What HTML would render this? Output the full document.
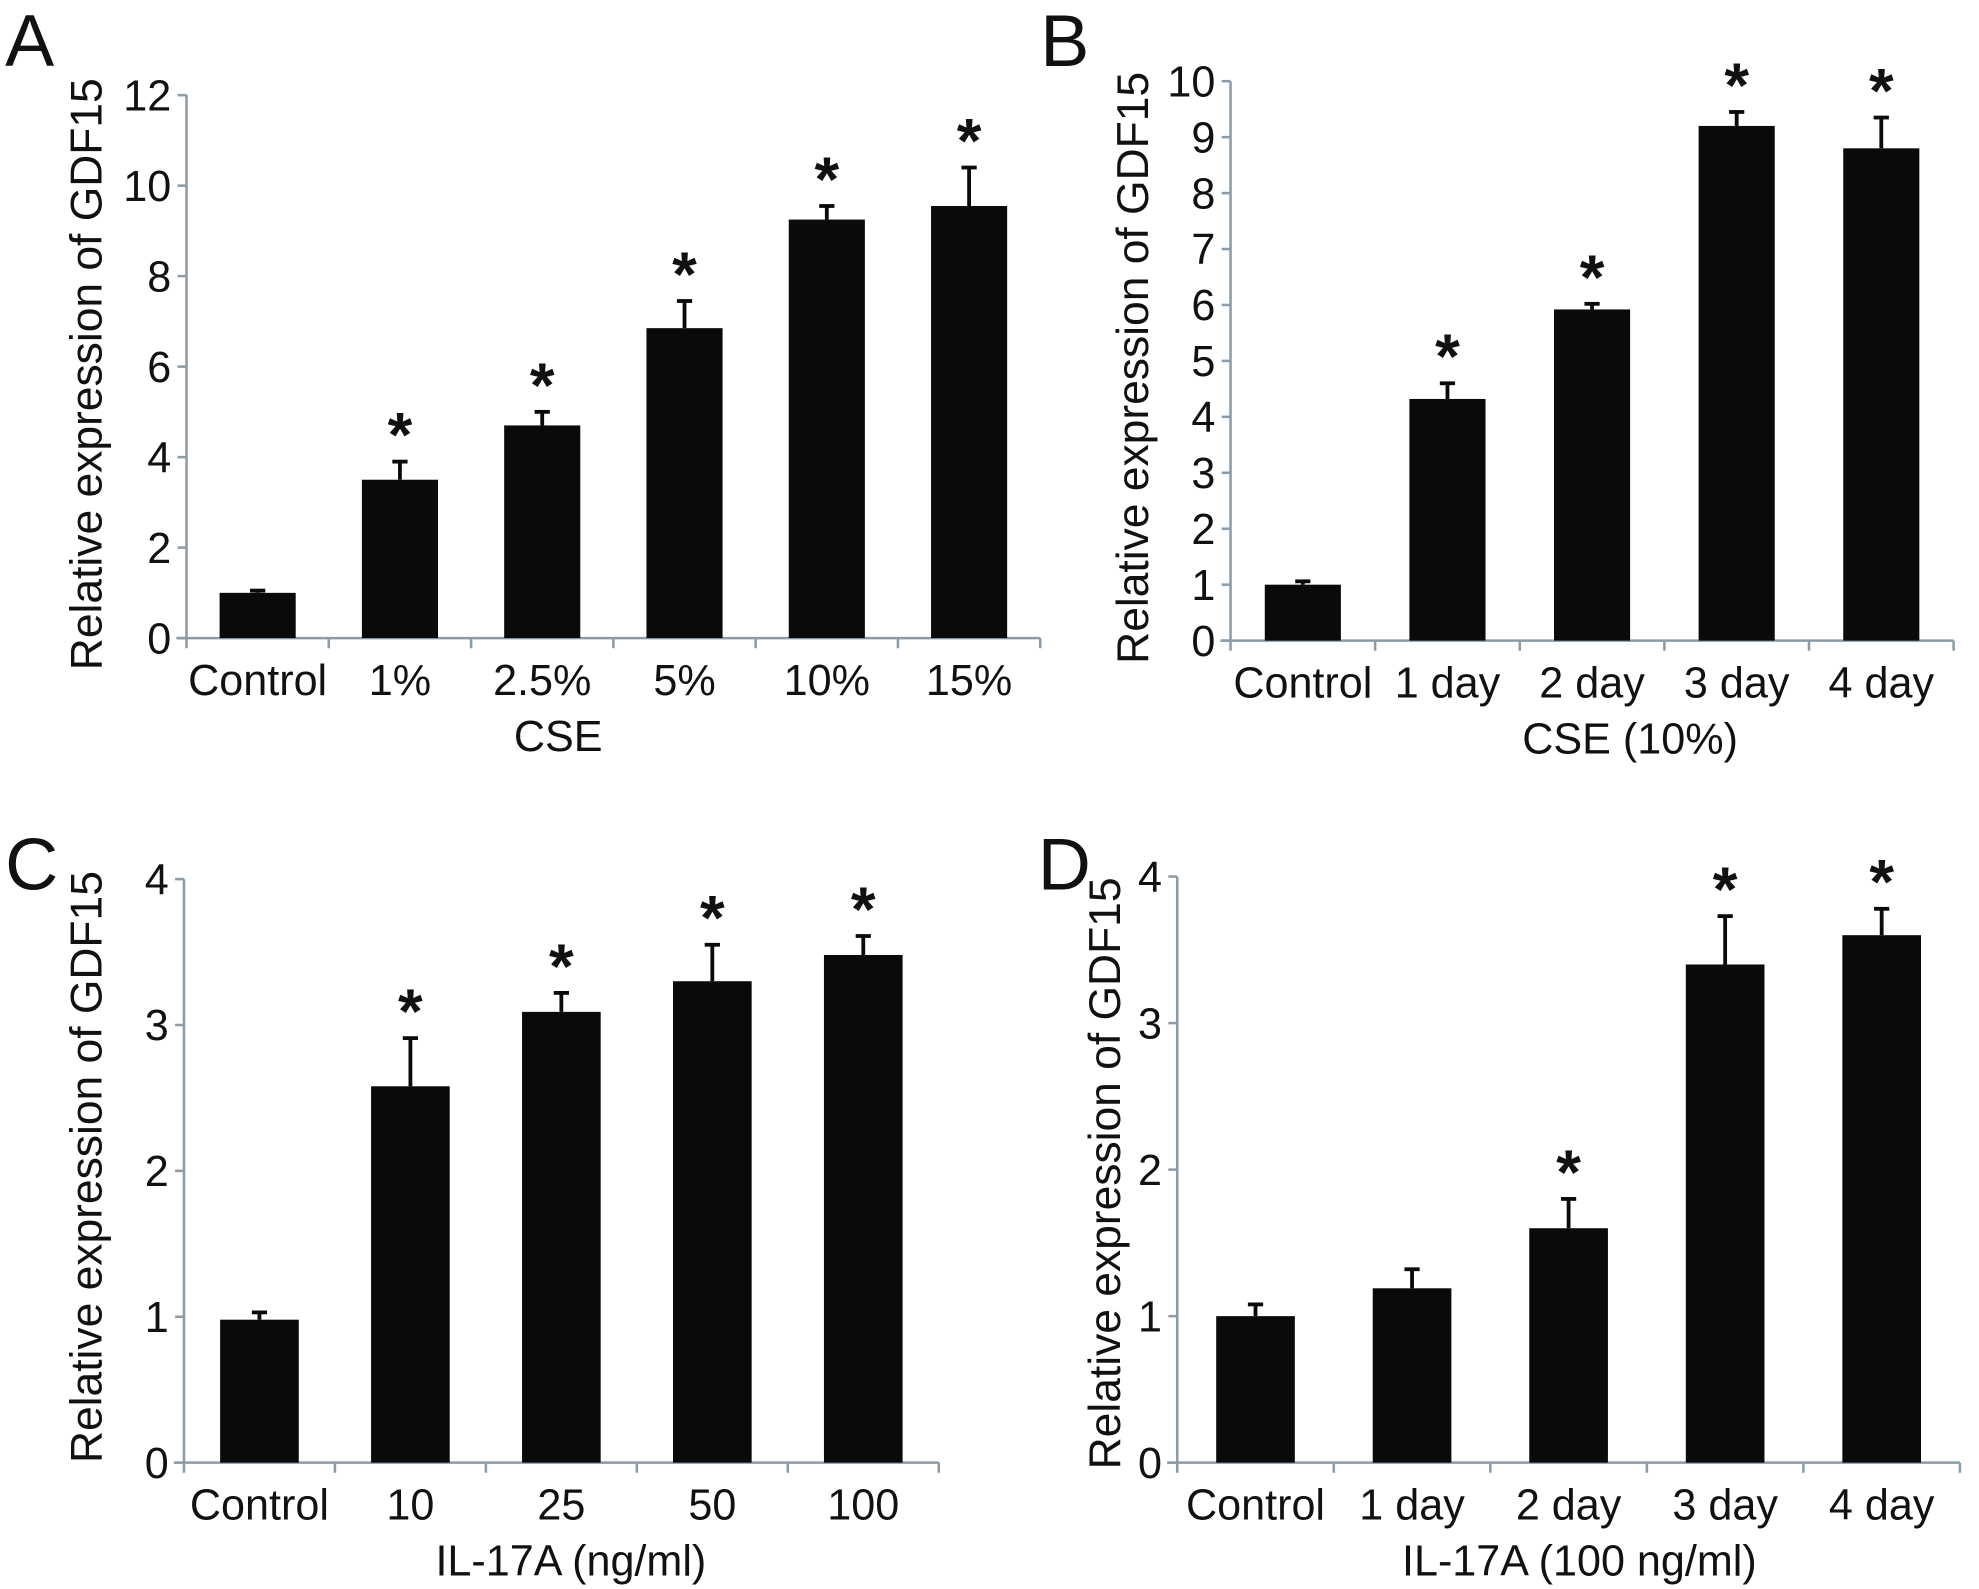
<!DOCTYPE html>
<html><head><meta charset="utf-8">
<style>
html,body{margin:0;padding:0;background:#fff;}
svg{display:block;}
text{font-family:"Liberation Sans",Arial,sans-serif;fill:#111;}
</style></head>
<body>
<svg id="fig" width="1979" height="1589" viewBox="0 0 1560 1252.6" xmlns="http://www.w3.org/2000/svg"></svg>
<script>
// Panel A
const catsA = ["Control","1%","2.5%","5%","10%","15%"];
const valsA = [1.0,3.5,4.7,6.85,9.25,9.55];
const errsA = [0.05,0.4,0.3,0.6,0.3,0.85];
const sigA = [false,true,true,true,true,true];
const ticksA = [0,2,4,6,8,10,12];
// Panel B
const catsB = ["Control","1 day","2 day","3 day","4 day"];
const valsB = [1.0,4.32,5.92,9.2,8.8];
const errsB = [0.06,0.28,0.1,0.25,0.55];
const sigB = [false,true,true,true,true];
const ticksB = [0,1,2,3,4,5,6,7,8,9,10];
// Panel C
const catsC = ["Control","10","25","50","100"];
const valsC = [0.98,2.58,3.09,3.3,3.48];
const errsC = [0.05,0.33,0.13,0.25,0.13];
const sigC = [false,true,true,true,true];
const ticksC = [0,1,2,3,4];
// Panel D
const catsD = ["Control","1 day","2 day","3 day","4 day"];
const valsD = [1.0,1.19,1.6,3.4,3.6];
const errsD = [0.08,0.13,0.2,0.33,0.18];
const sigD = [false,false,true,true,true];
const ticksD = [0,1,2,3,4];

const NS="http://www.w3.org/2000/svg";
const svg=document.getElementById('fig');
function mk(tag,attrs,parent){const e=document.createElementNS(NS,tag);for(const k in attrs)e.setAttribute(k,attrs[k]);(parent||svg).appendChild(e);return e;}

function panel(p){
  const g=mk('g',{});
  
  
  const ymax=p.ticks[p.ticks.length-1];
  const Y=v=>p.y0-(p.y0-p.yTop)*v/ymax;
  const n=p.cats.length;
  const step=(p.xR-p.x0)/n;
  const X=i=>p.x0+step*(i+0.5);
  const lt=mk('text',{x:p.lx,y:p.ly,'font-size':58},g);lt.textContent=p.letter;
  
  
  const ax='#8c9ba6';
  const ya=mk('line',{x1:p.x0,y1:p.yTop,x2:p.x0,y2:p.y0,stroke:ax,'stroke-width':2},g);
  
  
  const xa=mk('line',{x1:p.x0-8,y1:p.y0,x2:p.xR,y2:p.y0,stroke:ax,'stroke-width':2},g);
  
  
  p.ticks.forEach(t=>{
    mk('line',{x1:p.x0-7,y1:Y(t),x2:p.x0,y2:Y(t),stroke:ax,'stroke-width':2},g);
    const tt=mk('text',{x:p.x0-12,y:Y(t)+12,'font-size':34,'text-anchor':'end'},g);tt.textContent=t;
    
    
  });
  for(let i=0;i<=n;i++){mk('line',{x1:p.x0+step*i,y1:p.y0,x2:p.x0+step*i,y2:p.y0+8,stroke:ax,'stroke-width':2},g);}
  p.cats.forEach((c,i)=>{
    const v=p.vals[i],e=p.errs[i],cx=X(i);
    const b=mk('rect',{x:cx-p.bw/2,y:Y(v),width:p.bw,height:p.y0-Y(v),fill:'#0a0a0a'},g);
    
    
    mk('line',{x1:cx,y1:Y(v),x2:cx,y2:Y(v+e),stroke:'#0a0a0a','stroke-width':3},g);
    mk('line',{x1:cx-6,y1:Y(v+e),x2:cx+6,y2:Y(v+e),stroke:'#0a0a0a','stroke-width':3},g);
    if(p.sig[i]){const s=mk('text',{x:cx,y:Y(v+e)-4,'font-size':50,'font-weight':'bold','text-anchor':'middle'},g);s.textContent='*';
      
      }
    const cl=mk('text',{x:cx,y:p.y0+45,'font-size':34,'text-anchor':'middle'},g);cl.textContent=c;
    
    
  });
  const xt=mk('text',{x:p.xtx,y:p.y0+89,'font-size':34,'text-anchor':'middle'},g);xt.textContent=p.xtitle;
  
  
  const yt=mk('text',{x:0,y:0,'font-size':35,'text-anchor':'middle',transform:`translate(${p.ytx},${p.ytc}) rotate(-90)`},g);
  yt.textContent='Relative expression of GDF15';
  
  
}
panel({letter:'A',lx:4,ly:52,x0:147,xR:820,y0:503,yTop:75,bw:60,cats:catsA,vals:valsA,errs:errsA,sig:sigA,ticks:ticksA,xtitle:'CSE',xtx:440,ytx:80,ytc:295});
panel({letter:'B',lx:820,ly:52,x0:970,xR:1540,y0:505,yTop:64,bw:60,cats:catsB,vals:valsB,errs:errsB,sig:sigB,ticks:ticksB,xtitle:'CSE (10%)',xtx:1285,ytx:905,ytc:290});
panel({letter:'C',lx:4,ly:701,x0:145,xR:740,y0:1153,yTop:693,bw:62,cats:catsC,vals:valsC,errs:errsC,sig:sigC,ticks:ticksC,xtitle:'IL-17A (ng/ml)',xtx:450,ytx:80,ytc:920});
panel({letter:'D',lx:818,ly:701,x0:928,xR:1545,y0:1153,yTop:691,bw:62,cats:catsD,vals:valsD,errs:errsD,sig:sigD,ticks:ticksD,xtitle:'IL-17A (100 ng/ml)',xtx:1245,ytx:883,ytc:925});
</script>
</body></html>
